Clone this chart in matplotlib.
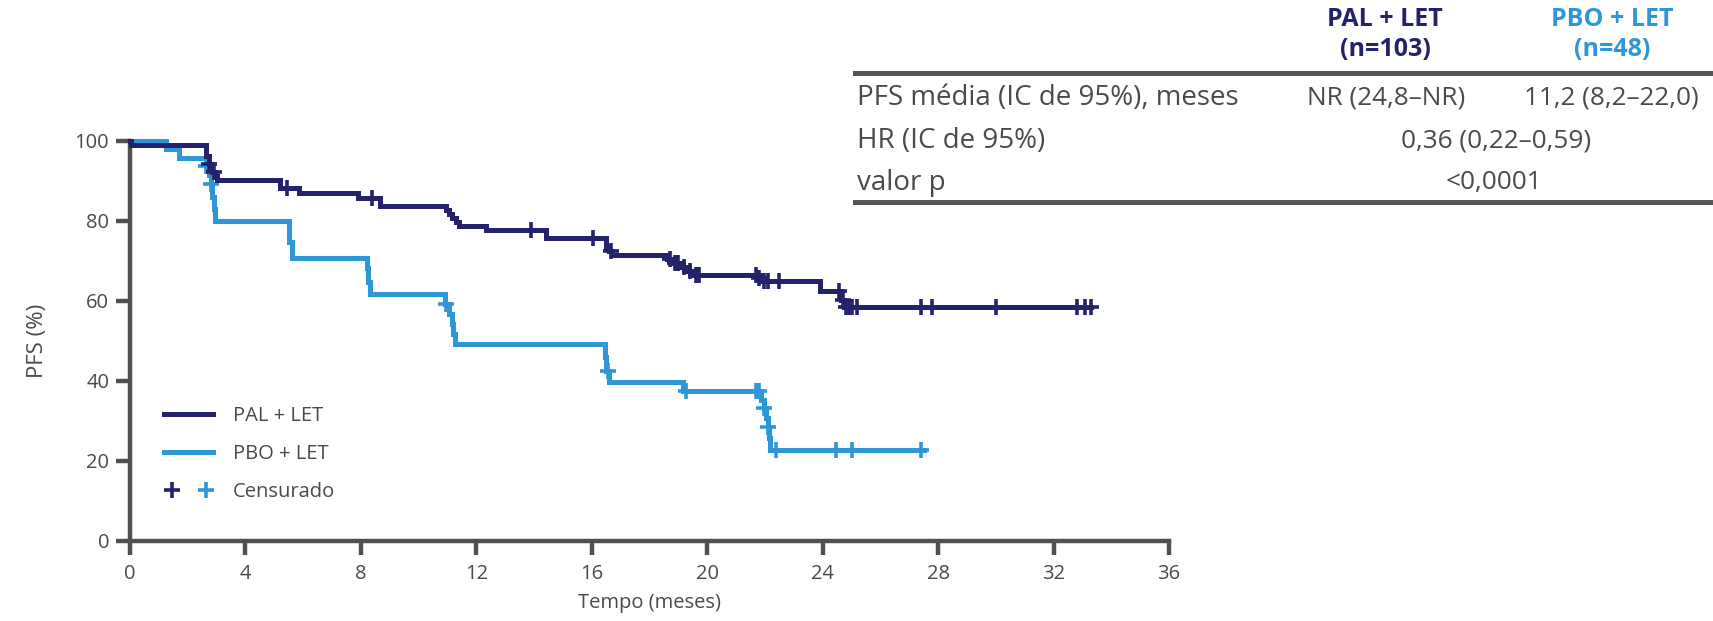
import numpy as np
import matplotlib.pyplot as plt
from matplotlib.lines import Line2D
from matplotlib.legend_handler import HandlerTuple

plt.rcParams['font.family'] = ['Open Sans', 'DejaVu Sans']

# PAL + LET: month of each drop and PFS (%) just after it
pal_t = [0.05, 2.65, 2.75, 2.85, 2.95, 3.0, 5.2, 5.85, 7.9, 8.65, 10.95, 11.05,
         11.15, 11.3, 11.4, 12.35, 14.4, 16.5, 16.6, 16.7, 18.6, 18.8, 19.1,
         19.3, 19.55, 21.75, 21.9, 23.9, 24.65, 24.75]
pal_s = [99.0, 96.1, 94.2, 92.2, 91.2, 90.2, 88.2, 87.0, 85.6, 83.6, 82.6, 81.6,
         80.6, 79.6, 78.7, 77.7, 75.7, 73.5, 72.5, 71.5, 70.5, 69.5, 68.5,
         67.4, 66.4, 65.7, 64.9, 62.4, 60.3, 58.5]
pal_cens = [2.75, 2.9, 5.45, 8.4, 13.9, 16.05, 16.65, 18.7, 18.9, 19.0, 19.2,
            19.4, 19.6, 19.7, 21.7, 21.8, 21.95, 22.1, 22.5, 24.55, 24.7, 24.8,
            24.9, 25.0, 25.2, 27.4, 27.8, 30.0, 32.8, 33.1, 33.3]
pal_end = 33.3

# PBO + LET
pbo_t = [1.25, 1.7, 2.65, 2.75, 2.8, 2.85, 2.9, 2.95, 5.5, 5.6, 8.2, 8.25, 8.3,
         10.9, 11.05, 11.15, 11.2, 11.25, 16.45, 16.5, 16.6, 19.15, 21.85,
         21.95, 22.05, 22.1, 22.13, 22.16]
pbo_s = [97.9, 95.8, 93.7, 91.5, 89.3, 86.0, 83.0, 79.9, 74.8, 70.6, 68.1, 64.8,
         61.7, 59.2, 56.8, 54.2, 51.8, 49.3, 46.0, 42.5, 39.7, 37.5, 35.2,
         33.1, 30.8, 28.5, 25.6, 22.7]
pbo_cens = [2.65, 2.8, 10.95, 16.55, 19.25, 21.7, 21.8, 21.96, 22.1, 22.4,
            24.45, 25.0, 27.4]
pbo_end = 27.5

arms = ['PAL + LET', 'PBO + LET']
n_arm = ['(n=103)', '(n=48)']
row_labels = ['PFS média (IC de 95%), meses', 'HR (IC de 95%)', 'valor p']
pfs_vals = ['NR (24,8–NR)', '11,2 (8,2–22,0)']
hr_val = '0,36 (0,22–0,59)'
p_val = '<0,0001'

x_ticks = np.arange(0, 37, 4)
y_ticks = np.arange(0, 101, 20)

DARK = '#23226a'
LIGHT = '#2d97d7'
GREY = '#4a4a4a'
AXC = '#505050'

W, H = 1713, 621
fig = plt.figure(figsize=(W / 100, H / 100), dpi=100)
ax = fig.add_axes([130 / W, 1 - 540.7 / H, 1039 / W, 400 / H])


def km(t, s, end):
    ts = np.r_[0, t, end]
    ss = np.r_[100, s, s[-1]]
    return ts, ss


def at(t, s, x):
    # survival level at censor time x
    ts = np.r_[0, t]
    ss = np.r_[100, s]
    return ss[np.searchsorted(ts, x, side='right') - 1]


for t, s, c, end, col, z in [(pbo_t, pbo_s, pbo_cens, pbo_end, LIGHT, 3),
                             (pal_t, pal_s, pal_cens, pal_end, DARK, 4)]:
    ts, ss = km(t, s, end)
    ax.step(ts, ss, where='post', color=col, lw=3.6, zorder=z, clip_on=False,
            solid_joinstyle='miter')
    ax.plot(c, at(t, s, np.array(c)), ls='none', marker='+', ms=11, mew=2.6,
            color=col, zorder=z, clip_on=False)

ax.set_xlim(0, 36)
ax.set_ylim(0, 100)
ax.set_xticks(x_ticks)
ax.set_yticks(y_ticks)
for sp in ['top', 'right']:
    ax.spines[sp].set_visible(False)
for sp in ['left', 'bottom']:
    ax.spines[sp].set_color(AXC)
    ax.spines[sp].set_linewidth(3.2)
ax.tick_params(direction='out', length=10, width=3.2, color=AXC,
               labelcolor=GREY, labelsize=14.5)
ax.tick_params(axis='x', pad=7)
ax.tick_params(axis='y', pad=5)
ax.set_xlabel('Tempo (meses)', fontsize=14.5, color=GREY, labelpad=6)
ax.set_ylabel('PFS (%)', fontsize=16, color=GREY, labelpad=19)

h_pal = Line2D([], [], color=DARK, lw=3.6)
h_pbo = Line2D([], [], color=LIGHT, lw=3.6)
c_pal = Line2D([], [], color=DARK, ls='none', marker='+', ms=11, mew=2.6)
c_pbo = Line2D([], [], color=LIGHT, ls='none', marker='+', ms=11, mew=2.6)
leg = ax.legend([h_pal, h_pbo, (c_pal, c_pbo)], arms + ['Censurado'],
                loc='upper left', bbox_to_anchor=(0.033, 0.336),
                frameon=False, fontsize=14.5, handlelength=2.44,
                handletextpad=0.95, labelspacing=0.88, borderpad=0,
                borderaxespad=0,
                handler_map={tuple: HandlerTuple(ndivide=None, pad=1.0)})
for tx in leg.get_texts():
    tx.set_color(GREY)

# summary table
def fx(x):
    return x / W


def fy(y):
    return 1 - y / H


for y in [73, 202]:
    fig.add_artist(Line2D([fx(855), 1], [fy(y), fy(y)], color='#555555', lw=3.6))

hx = [1385, 1612]
for i, col in enumerate([DARK, LIGHT]):
    fig.text(fx(hx[i]), fy(20), arms[i], ha='center', va='center', color=col,
             fontsize=18, fontweight='bold')
    fig.text(fx(hx[i]), fy(50), n_arm[i], ha='center', va='center', color=col,
             fontsize=18, fontweight='bold')

row_y = [98, 141, 183]
for lab, y in zip(row_labels, row_y):
    fig.text(fx(857), fy(y), lab, ha='left', va='center', color=GREY, fontsize=20)
fig.text(fx(1386), fy(row_y[0]), pfs_vals[0], ha='center', va='center', color=GREY, fontsize=18.8)
fig.text(fx(1611), fy(row_y[0]), pfs_vals[1], ha='center', va='center', color=GREY, fontsize=18.8)
fig.text(fx(1496), fy(row_y[1]), hr_val, ha='center', va='center', color=GREY, fontsize=18.8)
fig.text(fx(1494), fy(row_y[2]), p_val, ha='center', va='center', color=GREY, fontsize=18.8)

fig.savefig('out.png', dpi=100)
